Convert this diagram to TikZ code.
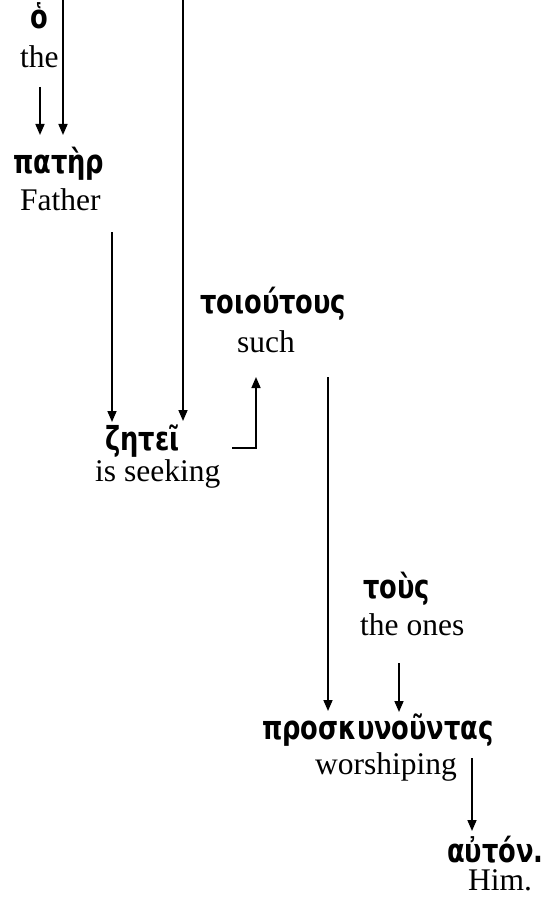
\documentclass[tikz,border=0pt]{standalone}
\usepackage{fontspec}
\setmainfont{Liberation Serif}
\newfontfamily\greekfont{DejaVu Sans}
\usetikzlibrary{arrows.meta}
% narrowed bold Greek for the source words
\newcommand\gk[1]{\scalebox{0.78}[1]{#1}}
\begin{document}
\begin{tikzpicture}[x=1pt,y=-1pt,
  gloss/.style={anchor=base west,inner sep=0pt,font=\fontsize{31.5}{36}\selectfont},
  greek/.style={anchor=base west,inner sep=0pt,font=\greekfont\bfseries\fontsize{33}{38}\selectfont},
  arr/.style={line width=1.6pt,-{Triangle[length=11pt,width=9pt]}}]
\useasboundingbox (0,0) rectangle (546,923);

% words: Greek line above, English gloss below
\node[greek] (g-ho)   at (30,29)   {\gk{ὁ}};
\node[gloss] (e-ho)   at (20,68)   {the};
\node[greek] (g-pat)  at (13,173)  {\gk{πατὴρ}};
\node[gloss] (e-pat)  at (20,210)  {Father};
\node[greek] (g-zet)  at (105,450) {\gk{ζητεῖ}};
\node[gloss] (e-zet)  at (95,481)  {is seeking};
\node[greek] (g-toi)  at (200,313) {\gk{τοιούτους}};
\node[gloss] (e-toi)  at (237,352) {such};
\node[greek] (g-tous) at (363,598) {\gk{τοὺς}};
\node[gloss] (e-tous) at (360,635) {the ones};
\node[greek] (g-pro)  at (262,739) {\gk{προσκυνοῦντας}};
\node[gloss] (e-pro)  at (315,774) {worshiping};
\node[greek] (g-aut)  at (447,862) {\gk{αὐτόν.}};
\node[gloss] (e-aut)  at (468,890) {Him.};

% connector end points
\coordinate (in-a)    at (63,0);
\coordinate (pat-a)   at (63,135);
\coordinate (ho-out)  at (40,87);
\coordinate (pat-b)   at (40,135);
\coordinate (in-b)    at (183,0);
\coordinate (zet-a)   at (183,421);
\coordinate (pat-out) at (112,232);
\coordinate (zet-b)   at (112,422);
\coordinate (zet-out) at (232,448);
\coordinate (toi-in)  at (256,377);
\coordinate (toi-out) at (328,377);
\coordinate (pro-a)   at (328,711);
\coordinate (tous-out) at (399,663);
\coordinate (pro-b)   at (399,712);
\coordinate (pro-out) at (472,758);
\coordinate (aut-in)  at (472,831);

% connectors
\draw[arr] (in-a) -- (pat-a);
\draw[arr] (ho-out) -- (pat-b);
\draw[arr] (in-b) -- (zet-a);
\draw[arr] (pat-out) -- (zet-b);
\draw[arr] (zet-out) -| (toi-in);
\draw[arr] (toi-out) -- (pro-a);
\draw[arr] (tous-out) -- (pro-b);
\draw[arr] (pro-out) -- (aut-in);
\end{tikzpicture}
\end{document}
